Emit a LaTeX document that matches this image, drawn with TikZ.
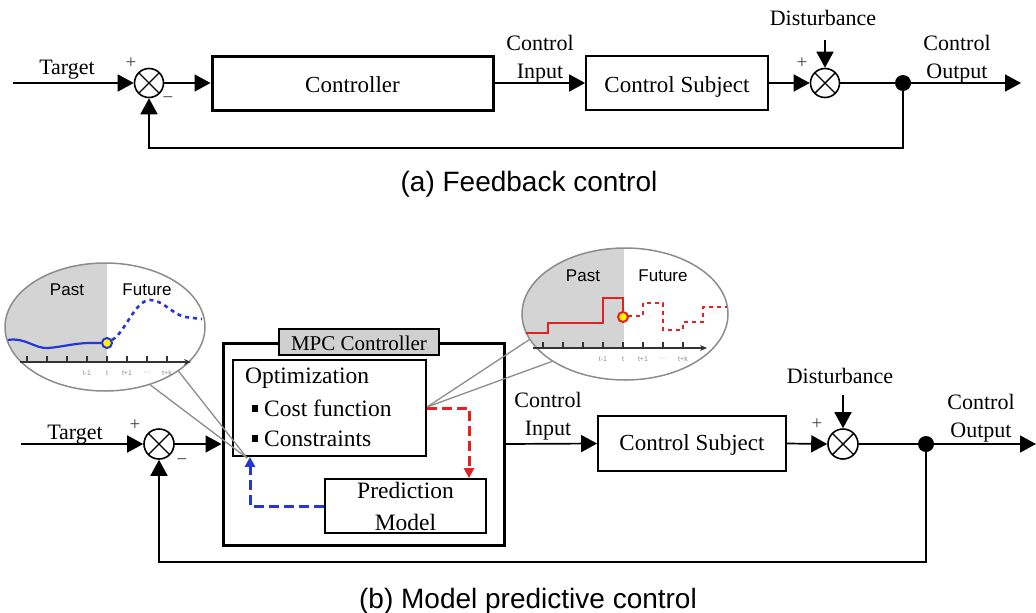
\documentclass[tikz,border=0pt]{standalone}
\usepackage{fontspec}
\setmainfont{Liberation Serif}
\newfontfamily\sansfont{Liberation Sans}
\usetikzlibrary{arrows.meta,shapes.geometric}
\definecolor{pastgray}{RGB}{212,212,212}
\definecolor{tagfill}{RGB}{208,208,208}
\definecolor{curveblue}{RGB}{35,55,215}
\definecolor{stepred}{RGB}{228,32,32}
\definecolor{rimgray}{RGB}{140,140,140}
\begin{document}
\begin{tikzpicture}[x=1pt,y=-1pt,
  wire/.style={line width=1.7pt},
  arr/.style={wire,-{Triangle[length=16pt,width=17pt]}},
  sumjn/.style={circle,draw,line width=1.6pt,inner sep=0pt,minimum size=#1,
    path picture={\draw[line width=1.4pt]
      (path picture bounding box.north west)--(path picture bounding box.south east)
      (path picture bounding box.south west)--(path picture bounding box.north east);}},
  sumjn/.default=29pt,
  junction/.style={circle,fill,inner sep=0pt,minimum size=16pt},
  thinbox/.style={draw,line width=1.8pt,inner sep=0pt,font=\fontsize{23}{27}\selectfont,text depth=0pt},
  heavybox/.style={draw,line width=3pt,inner sep=0pt,font=\fontsize{23}{27}\selectfont,text depth=0pt},
  lbl/.style={anchor=base,inner sep=0pt,font=\fontsize{22}{26}\selectfont},
  boxtxt/.style={anchor=base west,inner sep=0pt,font=\fontsize{23.5}{27}\selectfont},
  sign/.style={text=black!75,font=\fontsize{19}{20}\selectfont,inner sep=0pt},
  captiontxt/.style={anchor=base,inner sep=0pt,font=\sansfont\fontsize{28}{32}\selectfont},
  bubble/.style={ellipse,draw=rimgray,line width=1.5pt,inner sep=0pt},
  callout/.style={draw=rimgray,line width=1.3pt},
  axisline/.style={line width=1.3pt,black!80,-{Stealth[length=7pt,width=6pt]}},
  tickmark/.style={line width=1.1pt,black!80},
  ticklbl/.style={font=\sansfont\fontsize{7}{8}\selectfont,text=black!45,inner sep=0pt},
  era/.style={anchor=base,font=\sansfont\fontsize{17}{20}\selectfont,inner sep=0pt},
  bluedash/.style={line width=3pt,curveblue,dash pattern=on 10pt off 5pt,-{Triangle[length=10pt,width=10pt]}},
  reddash/.style={line width=3pt,stepred,dash pattern=on 10pt off 5pt,-{Triangle[length=10pt,width=10pt]}},
  bullet/.style={fill,inner sep=0pt,minimum width=6pt,minimum height=7pt}
]
\useasboundingbox (0,0) rectangle (1036,613);

%% ---------- (a) feedback control ----------
\coordinate (tinA) at (13,83);
\node[sumjn] (s1) at (149,83) {};
\node[heavybox,minimum width=281pt,minimum height=54pt,text height=18pt] (ctrl) at (352.5,83) {Controller};
\node[thinbox,minimum width=182pt,minimum height=54pt,text height=18pt] (cs1) at (677,83) {Control Subject};
\node[sumjn] (s2) at (825,83) {};
\node[junction] (j1) at (903,83) {};
\coordinate (outA) at (1021,83);
\coordinate (distA) at (825,40);
\coordinate (fbA) at (903,148);

\draw[arr] (tinA) -- (s1.west);
\draw[arr] (s1.east) -- (ctrl.west);
\draw[arr] (ctrl.east) -- (cs1.west);
\draw[arr] (cs1.east) -- (s2.west);
\draw[arr] (distA) -- (s2.north);
\draw[wire] (s2.east) -- (j1.center);
\draw[arr] (j1.center) -- (outA);
\draw[arr] (j1.center) -- (fbA) -| (s1.south);

\node[lbl] (tgtA) at (67,74) {Target};
\node[sign] (p1) at (131,63) {+};
\node[sign] (m1) at (168,100) {−};
\node[lbl] (ciA1) at (540,50) {Control};
\node[lbl] (ciA2) at (540,78) {Input};
\node[sign] (p2) at (802,63) {+};
\node[lbl] (dA) at (823,25) {Disturbance};
\node[lbl] (coA1) at (957,50) {Control};
\node[lbl] (coA2) at (957,78) {Output};
\node[captiontxt] (capA) at (529,191) {(a) Feedback control};

%% ---------- (b) model predictive control ----------
\coordinate (tinB) at (21,444);
\node[sumjn=30pt] (s3) at (159,444) {};
\node[heavybox,minimum width=281pt,minimum height=202pt] (mpc) at (363.5,444) {};
\node[draw,fill=tagfill,line width=1.8pt,minimum width=160pt,minimum height=26pt,inner sep=0pt,
      font=\fontsize{21}{24}\selectfont,text height=16pt,text depth=0pt] (tag) at (359,342) {MPC Controller};
\node[thinbox,minimum width=193pt,minimum height=96pt] (opt) at (329.5,408) {};
\node[boxtxt] (optT) at (245,383) {Optimization};
\node[bullet] (b1) at (254.5,408) {};
\node[boxtxt] (optC) at (264,416) {Cost function};
\node[bullet] (b2) at (254.5,438) {};
\node[boxtxt] (optK) at (264,446) {Constraints};
\node[thinbox,minimum width=161pt,minimum height=54pt] (pm) at (405.5,506) {};
\node[lbl,font=\fontsize{23.5}{27}\selectfont] (pmT1) at (405.5,498) {Prediction};
\node[lbl,font=\fontsize{23.5}{27}\selectfont] (pmT2) at (405.5,530) {Model};
\node[thinbox,minimum width=188pt,minimum height=55pt,text height=13pt] (cs2) at (692,443.5) {Control Subject};
\node[sumjn=30pt] (s4) at (843,444) {};
\node[junction] (j2) at (926,444) {};
\coordinate (outB) at (1036,444);
\coordinate (distB) at (843,395);
\coordinate (fbB) at (926,562);
\coordinate (rd) at (469,408);
\coordinate (bd) at (250,506);

\draw[arr] (tinB) -- (s3.west);
\draw[arr] (s3.east) -- (mpc.west);
\draw[arr] (mpc.east) -- (cs2.west);
\draw[arr] (cs2.east) -- (s4.west);
\draw[arr] (distB) -- (s4.north);
\draw[wire] (s4.east) -- (j2.center);
\draw[arr] (j2.center) -- (outB);
\draw[arr] (j2.center) -- (fbB) -| (s3.south);
\draw[reddash] (opt.east |- rd) -- (rd) -- (rd |- pm.north);
\draw[bluedash] (pm.west |- bd) -- (bd) -- (bd |- opt.south);

\node[lbl] (tgtB) at (75,439) {Target};
\node[sign] (p3) at (135,425) {+};
\node[sign] (m3) at (182,462) {−};
\node[lbl] (ciB1) at (548,407) {Control};
\node[lbl] (ciB2) at (548,435) {Input};
\node[sign] (p4) at (817,424) {+};
\node[lbl] (dB) at (840,383) {Disturbance};
\node[lbl] (coB1) at (981,409) {Control};
\node[lbl] (coB2) at (981,437) {Output};
\node[captiontxt] (capB) at (528,608) {(b) Model predictive control};

%% ---------- left bubble: predicted output ----------
\begin{scope}
  \clip (105,327) ellipse [x radius=100pt,y radius=64pt];
  \fill[pastgray] (0,255) rectangle (107,362);
\end{scope}
\node[bubble,minimum width=200pt,minimum height=128pt] (lb) at (105,327) {};
\draw[axisline] (20,362) -- (191,362);
\foreach \t in {27,47,...,167} \draw[tickmark] (\t,356) -- (\t,362);
\node[ticklbl] (lt1) at (87,373) {t-1};
\node[ticklbl] (lt2) at (107,373) {t};
\node[ticklbl] (lt3) at (127,373) {t+1};
\node[ticklbl] (lt4) at (147,373) {···};
\node[ticklbl] (lt5) at (167,373) {t+k};
\node[era] (lpast) at (67,295) {Past};
\node[era] (lfut) at (147,295) {Future};
\draw[line width=2.2pt,curveblue] (8,340) .. controls (25,337) and (35,349) .. (48,348)
  .. controls (62,347) and (75,343) .. (90,343) -- (102,343);
\draw[line width=2.6pt,curveblue,dash pattern=on 4pt off 4pt] (112,340)
  .. controls (125,333) and (135,300) .. (150,300)
  .. controls (163,300) and (172,314) .. (185,317) -- (202,319);
\node[circle,draw=curveblue,fill=yellow,line width=2pt,minimum size=10pt,inner sep=0pt] (lnow) at (107,343) {};

%% ---------- right bubble: control input sequence ----------
\begin{scope}
  \clip (625,314) ellipse [x radius=103pt,y radius=66pt];
  \fill[pastgray] (515,240) rectangle (624,348);
\end{scope}
\node[bubble,minimum width=206pt,minimum height=132pt] (rb) at (625,314) {};
\draw[axisline] (533,348) -- (707,348);
\foreach \t in {543,563,...,683} \draw[tickmark] (\t,342) -- (\t,348);
\node[ticklbl] (rt1) at (603,359) {t-1};
\node[ticklbl] (rt2) at (623,359) {t};
\node[ticklbl] (rt3) at (643,359) {t+1};
\node[ticklbl] (rt4) at (663,359) {···};
\node[ticklbl] (rt5) at (683,359) {t+k};
\node[era] (rpast) at (583,281) {Past};
\node[era] (rfut) at (663,281) {Future};
\draw[line width=2pt,stepred] (526,333) -- (548,333) -- (548,323) -- (603,323)
  -- (603,298) -- (623,298) -- (623,312);
\draw[line width=2.4pt,stepred,dash pattern=on 4pt off 4pt] (628,316) -- (643,316)
  -- (643,303) -- (663,303) -- (663,330) -- (683,330) -- (683,322) -- (703,322)
  -- (703,307) -- (727,307);
\node[circle,draw=stepred,fill=yellow,line width=2pt,minimum size=10pt,inner sep=0pt] (rnow) at (623,317) {};

%% ---------- callout pointers ----------
\coordinate (ltip) at (247,458);
\coordinate (rtip) at (427,407);
\draw[callout] (lb.-31) -- (ltip);
\draw[callout] (lb.-52) -- (ltip);
\draw[callout] (rb.195) -- (rtip);
\draw[callout] (rb.213) -- (rtip);
\end{tikzpicture}
\end{document}
